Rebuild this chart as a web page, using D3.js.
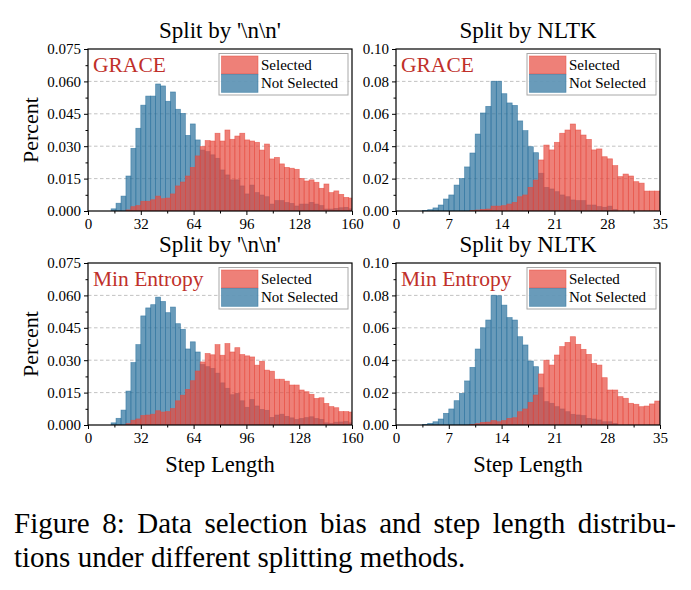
<html>
<head>
    <title>Step length distributions</title>
    <script src="https://d3js.org/d3.v7.min.js"></script>
</head>
<style>
    body { margin: 0; background: #fff; }
    svg text { font-family: "Liberation Serif", "Times New Roman", serif; fill: #000; }
</style>
<body>
<script>
    // ---- data (fraction of steps per bin) ----
    // Split by '\n\n': bins of width 3 starting at 14
    let splitStart = 14, splitWidth = 3;
    // Split by NLTK: bins of width 0.7 starting at 0
    let nltkStart = 0, nltkWidth = 0.7;

    let graceSplitNot = [0.0010,0.0036,0.0069,0.0162,0.0290,0.0383,0.0490,0.0532,0.0532,0.0588,0.0579,0.0508,0.0551,0.0471,0.0452,0.0350,0.0403,0.0329,0.0282,0.0275,0.0260,0.0244,0.0190,0.0167,0.0144,0.0144,0.0116,0.0079,0.0120,0.0085,0.0074,0.0066,0.0032,0.0048,0.0048,0.0039,0.0035,0.0023,0.0032,0.0032,0.0040,0.0032,0.0025,0.0009,0.0009,0.0012,0.0015,0.0017,0.0010];
    let graceSplitSel = [0,0,0,0.0005,0.0020,0.0025,0.0045,0.0045,0.0052,0.0069,0.0057,0.0060,0.0079,0.0116,0.0134,0.0162,0.0202,0.0255,0.0298,0.0326,0.0324,0.0360,0.0324,0.0375,0.0332,0.0347,0.0360,0.0329,0.0324,0.0318,0.0282,0.0310,0.0241,0.0248,0.0218,0.0202,0.0198,0.0193,0.0151,0.0139,0.0144,0.0133,0.0105,0.0125,0.0085,0.0093,0.0077,0.0063,0.0060];

    let graceNltkNot = [0,0,0,0,0,0.0003,0.0008,0.0019,0.0037,0.0074,0.0099,0.0160,0.0200,0.0272,0.0358,0.0475,0.0605,0.0646,0.0801,0.0801,0.0724,0.0667,0.0652,0.0556,0.0496,0.0397,0.0360,0.0233,0.0146,0.0136,0.0119,0.0099,0.0088,0.0068,0.0064,0.0064,0.0037,0.0037,0.0027,0.0023,0.0030,0.0010,0,0,0,0,0,0,0,0];
    let graceNltkSel = [0,0,0,0,0,0,0,0,0,0,0,0,0,0,0.0004,0.0006,0.0010,0.0012,0.0030,0.0030,0.0033,0.0043,0.0053,0.0088,0.0099,0.0146,0.0191,0.0315,0.0407,0.0377,0.0424,0.0480,0.0500,0.0537,0.0500,0.0469,0.0442,0.0377,0.0383,0.0335,0.0322,0.0280,0.0212,0.0228,0.0216,0.0181,0.0172,0.0123,0.0123,0.0123];

    let minentSplitNot = [0.0010,0.0031,0.0069,0.0157,0.0289,0.0372,0.0505,0.0542,0.0557,0.0592,0.0572,0.0520,0.0546,0.0469,0.0443,0.0352,0.0385,0.0338,0.0280,0.0270,0.0262,0.0240,0.0195,0.0170,0.0140,0.0146,0.0112,0.0082,0.0118,0.0088,0.0072,0.0068,0.0035,0.0046,0.0050,0.0040,0.0033,0.0025,0.0030,0.0034,0.0038,0.0030,0.0026,0.0010,0.0008,0.0013,0.0014,0.0016,0.0010];
    let minentSplitSel = [0,0,0,0.0006,0.0022,0.0028,0.0044,0.0046,0.0050,0.0066,0.0060,0.0062,0.0076,0.0112,0.0138,0.0165,0.0205,0.0250,0.0292,0.0331,0.0325,0.0372,0.0323,0.0377,0.0338,0.0358,0.0326,0.0320,0.0315,0.0277,0.0295,0.0254,0.0249,0.0212,0.0212,0.0203,0.0185,0.0185,0.0162,0.0154,0.0142,0.0123,0.0126,0.0100,0.0085,0.0080,0.0062,0.0062,0.0060];

    let minentNltkNot = [0,0,0,0,0,0.0003,0.0010,0.0020,0.0037,0.0072,0.0099,0.0150,0.0195,0.0272,0.0356,0.0469,0.0600,0.0648,0.0801,0.0798,0.0740,0.0663,0.0648,0.0545,0.0494,0.0395,0.0360,0.0230,0.0144,0.0134,0.0113,0.0099,0.0082,0.0066,0.0062,0.0058,0.0041,0.0037,0.0031,0.0020,0.0020,0.0010,0,0,0,0,0,0,0,0];
    let minentNltkSel = [0,0,0,0,0,0,0,0,0,0,0,0,0,0,0.0004,0.0008,0.0016,0.0018,0.0027,0.0020,0.0027,0.0041,0.0045,0.0082,0.0099,0.0140,0.0185,0.0315,0.0400,0.0370,0.0432,0.0484,0.0510,0.0545,0.0498,0.0467,0.0436,0.0380,0.0370,0.0292,0.0216,0.0216,0.0175,0.0165,0.0134,0.0128,0.0113,0.0117,0.0130,0.0148];

    // ticks
    let splitXTicks = [0, 32, 64, 96, 128, 160];
    let splitXMinor = [16, 48, 80, 112, 144];
    let splitYTicks = [0, 0.015, 0.030, 0.045, 0.060, 0.075];
    let splitYMinor = [0.0075, 0.0225, 0.0375, 0.0525, 0.0675];
    let nltkXTicks = [0, 7, 14, 21, 28, 35];
    let nltkXMinor = [3.5, 10.5, 17.5, 24.5, 31.5];
    let nltkYTicks = [0, 0.02, 0.04, 0.06, 0.08, 0.10];
    let nltkYMinor = [0.01, 0.03, 0.05, 0.07, 0.09];

    let legendLabels = ["Selected", "Not Selected"];

    // ---- layout ----
    let svgwidth = 691, svgheight = 590;
    let colX = [88, 396], rowY = [49, 263];
    let pw = 264, ph = 162;

    let selColor = "#e74a3e", notColor = "#2a709c", alpha = 0.7;
    let labelColor = "#c0302a";

    let svg = d3.select("body").append("svg")
        .attr("width", svgwidth)
        .attr("height", svgheight);

    let panels = [
        {row: 0, col: 0, title: "Split by '\\n\\n'", method: "GRACE", sel: graceSplitSel, not: graceSplitNot, start: splitStart, bw: splitWidth, xMax: 160, xt: splitXTicks, xm: splitXMinor, yt: splitYTicks, ym: splitYMinor, fmt: d3.format(".3f")},
        {row: 0, col: 1, title: "Split by NLTK", method: "GRACE", sel: graceNltkSel, not: graceNltkNot, start: nltkStart, bw: nltkWidth, xMax: 35, xt: nltkXTicks, xm: nltkXMinor, yt: nltkYTicks, ym: nltkYMinor, fmt: d3.format(".2f")},
        {row: 1, col: 0, title: "Split by '\\n\\n'", method: "Min Entropy", sel: minentSplitSel, not: minentSplitNot, start: splitStart, bw: splitWidth, xMax: 160, xt: splitXTicks, xm: splitXMinor, yt: splitYTicks, ym: splitYMinor, fmt: d3.format(".3f")},
        {row: 1, col: 1, title: "Split by NLTK", method: "Min Entropy", sel: minentNltkSel, not: minentNltkNot, start: nltkStart, bw: nltkWidth, xMax: 35, xt: nltkXTicks, xm: nltkXMinor, yt: nltkYTicks, ym: nltkYMinor, fmt: d3.format(".2f")}
    ];

    panels.forEach(function (p, i) {
        let x0 = colX[p.col], y0 = rowY[p.row];
        let x = d3.scaleLinear().domain([0, p.xMax]).range([0, pw]);
        let y = d3.scaleLinear().domain([0, p.yt[p.yt.length - 1]]).range([ph, 0]);

        let g = svg.append("g").attr("transform", "translate(" + x0 + "," + y0 + ")");

        g.append("clipPath").attr("id", "clip" + i)
            .append("rect").attr("width", pw).attr("height", ph);

        // grid
        g.selectAll(".grid")
            .data(p.yt.slice(1, -1))
            .enter().append("line")
            .attr("x1", 0).attr("x2", pw)
            .attr("y1", d => y(d)).attr("y2", d => y(d))
            .attr("stroke", "#b4b4b4")
            .attr("stroke-width", 0.8)
            .attr("stroke-dasharray", "3.5,2.5");

        // bars: not selected below, selected on top
        let bars = g.append("g").attr("clip-path", "url(#clip" + i + ")");
        [[p.not, notColor], [p.sel, selColor]].forEach(function (s) {
            bars.append("g").selectAll("rect")
                .data(s[0].map((v, k) => ({k: k, v: v})).filter(d => d.v > 0))
                .enter().append("rect")
                .attr("x", d => x(p.start + d.k * p.bw))
                .attr("width", d => x(p.start + (d.k + 1) * p.bw) - x(p.start + d.k * p.bw))
                .attr("y", d => y(d.v))
                .attr("height", d => y(0) - y(d.v))
                .attr("fill", s[1])
                .attr("fill-opacity", alpha)
                .attr("stroke", s[1])
                .attr("stroke-opacity", alpha)
                .attr("stroke-width", 0.7);
        });

        // axes
        g.append("g").attr("transform", "translate(0," + ph + ")")
            .call(d3.axisBottom(x).tickValues(p.xt).tickSize(4).tickPadding(3.5).tickFormat(d3.format("d")));
        g.append("g").attr("transform", "translate(0," + ph + ")")
            .call(d3.axisBottom(x).tickValues(p.xm).tickSize(2.5).tickFormat(""));
        g.append("g")
            .call(d3.axisLeft(y).tickValues(p.yt).tickSize(4).tickPadding(3).tickFormat(p.fmt));
        g.append("g")
            .call(d3.axisLeft(y).tickValues(p.ym).tickSize(2.5).tickFormat(""));
        g.selectAll(".domain").remove();
        g.selectAll(".tick line").attr("stroke", "#000").attr("stroke-width", 1);
        g.selectAll(".tick text").attr("font-size", 15).attr("font-family", "Liberation Serif");

        // frame
        g.append("rect")
            .attr("width", pw).attr("height", ph)
            .attr("fill", "none").attr("stroke", "#000").attr("stroke-width", 1.2);

        // title
        g.append("text")
            .attr("x", pw / 2).attr("y", -11)
            .attr("text-anchor", "middle")
            .attr("font-size", 23)
            .text(p.title);

        // method label
        g.append("text")
            .attr("x", 5).attr("y", 23)
            .attr("font-size", 21.5)
            .style("fill", labelColor)
            .text(p.method);

        // legend
        let lg = g.append("g").attr("transform", "translate(" + (pw - 133) + ",4.5)");
        lg.append("rect")
            .attr("width", 129).attr("height", 41.5)
            .attr("fill", "#fff").attr("fill-opacity", 0.8)
            .attr("stroke", "#a8a8a8").attr("stroke-width", 1);
        [selColor, notColor].forEach(function (c, j) {
            lg.append("rect")
                .attr("x", 2.5).attr("y", 2.5 + j * 18.3)
                .attr("width", 36.5).attr("height", 18)
                .attr("fill", c).attr("fill-opacity", alpha)
                .attr("stroke", c).attr("stroke-opacity", alpha).attr("stroke-width", 0.7);
            lg.append("text")
                .attr("x", 42).attr("y", 16 + j * 18.3)
                .attr("font-size", 15)
                .text(legendLabels[j]);
        });

        // axis labels
        if (p.col === 0) {
            svg.append("text")
                .attr("transform", "translate(38," + (y0 + ph / 2) + ") rotate(-90)")
                .attr("text-anchor", "middle")
                .attr("font-size", 22)
                .text("Percent");
        }
        if (p.row === 1) {
            g.append("text")
                .attr("x", pw / 2).attr("y", ph + 47)
                .attr("text-anchor", "middle")
                .attr("font-size", 22.5)
                .text("Step Length");
        }
    });

    // caption
    let cap1 = svg.append("text")
        .attr("x", 14).attr("y", 533)
        .attr("font-size", 29)
        .text("Figure 8: Data selection bias and step length distribu-");
    let natural = cap1.node().getComputedTextLength();
    let spaces = cap1.text().split(" ").length - 1;
    cap1.attr("word-spacing", Math.max(0, (662 - natural) / spaces));

    svg.append("text")
        .attr("x", 14).attr("y", 567)
        .attr("font-size", 29)
        .text("tions under different splitting methods.");
</script>
</body>
</html>
